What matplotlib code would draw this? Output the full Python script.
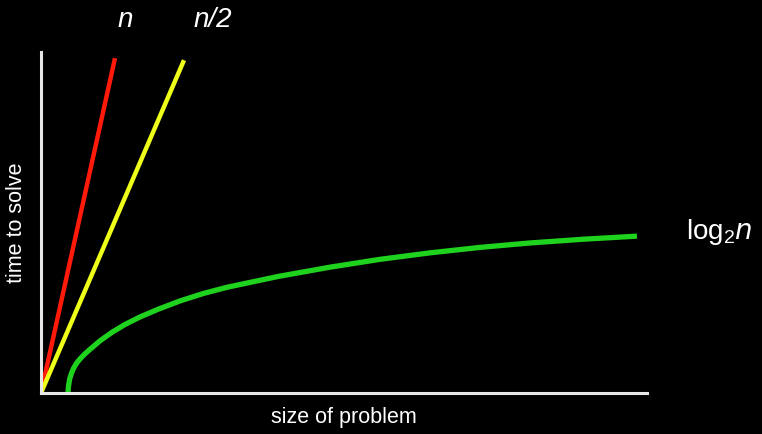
import numpy as np
import matplotlib.pyplot as plt

plt.rcParams['font.family'] = ['Liberation Sans', 'DejaVu Sans']

# straight lines: start and end points (size, time)
n_x = [0.0, 2.96]
n_y = [0.0, 9.82]
half_x = [0.0, 5.72]
half_y = [0.0, 9.76]

# log curve
log_x = [1.08, 1.10, 1.15, 1.22, 1.30, 1.42, 1.56, 1.76, 1.96, 2.36, 2.84,
         3.36, 3.96, 4.70, 5.56, 6.50, 7.44, 9.50, 11.56, 13.56, 15.56,
         17.56, 19.56, 21.70, 23.84]
log_y = [0.0, 0.20, 0.42, 0.58, 0.72, 0.87, 1.00, 1.15, 1.28, 1.53, 1.78,
         2.01, 2.23, 2.46, 2.70, 2.92, 3.10, 3.42, 3.69, 3.92, 4.11,
         4.27, 4.40, 4.51, 4.60]

fig = plt.figure(figsize=(7.62, 4.34), dpi=100, facecolor='black')
ax = fig.add_axes([41/762, 41/434, 606/762, 341/434], facecolor='black')

ax.plot(n_x, n_y, color='#ff1a0a', linewidth=3.2, solid_capstyle='butt')
ax.plot(half_x, half_y, color='#eeff1a', linewidth=3.2, solid_capstyle='butt')
ax.plot(log_x, log_y, color='#1ed21e', linewidth=3.8, solid_capstyle='butt',
        solid_joinstyle='round')

ax.set_xlim(0, 24.24)
ax.set_ylim(0, 10.0)
ax.set_xticks([])
ax.set_yticks([])
for side in ['top', 'right']:
    ax.spines[side].set_visible(False)
for side in ['left', 'bottom']:
    ax.spines[side].set_color('#e6e6e6')
    ax.spines[side].set_linewidth(2.2)

ax.set_xlabel('size of problem', color='white', fontsize=15.5, labelpad=10)
ax.set_ylabel('time to solve', color='white', fontsize=15.5, labelpad=10)

fig.text(125/762, 1 - 20/434, 'n', color='white', fontsize=20, style='italic',
         ha='center', va='center')
fig.text(213/762, 1 - 20/434, 'n/2', color='white', fontsize=20, style='italic',
         ha='center', va='center')
fig.text(686/762, 1 - 232/434, r'log$_{\mathregular{2}}$$\mathit{n}$', color='white',
         fontsize=20, ha='left', va='center')

fig.savefig('out.png', dpi=100, facecolor='black')
